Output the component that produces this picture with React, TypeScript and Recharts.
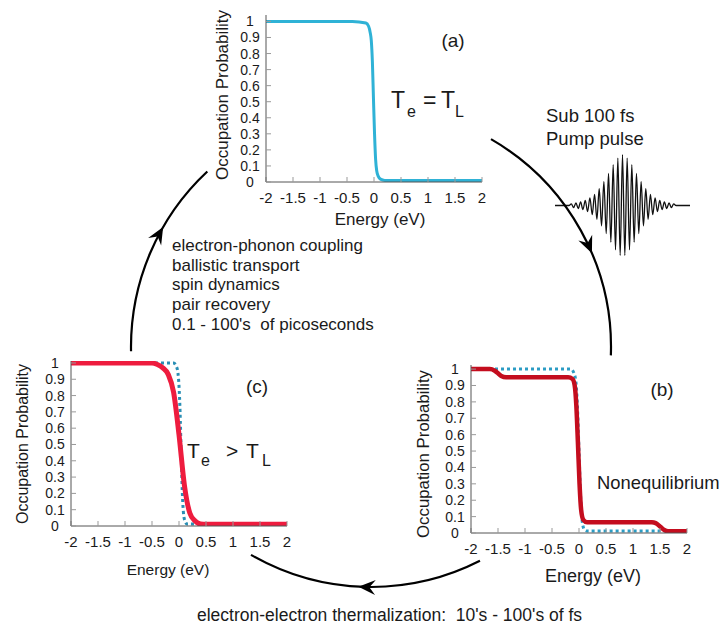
import { LineChart, Line, XAxis, YAxis } from 'recharts'

const FONT = '"Liberation Sans", Arial, Helvetica, sans-serif'
const INK = '#1a1a1a'
const FRAME = '#555555'

const X_TICKS = [-2, -1.5, -1, -0.5, 0, 0.5, 1, 1.5, 2]
const Y_TICKS = [0, 0.1, 0.2, 0.3, 0.4, 0.5, 0.6, 0.7, 0.8, 0.9, 1]

// (a) equilibrium, Te = TL
const A_E = [-2, -0.4, -0.15, -0.1, -0.07, -0.05, -0.03, -0.01, 0.01, 0.03, 0.05, 0.08, 0.12, 0.2, 2]
const A_F = [1, 1, 0.99, 0.97, 0.93, 0.88, 0.75, 0.52, 0.3, 0.14, 0.07, 0.035, 0.018, 0.01, 0.01]

// (b) nonequilibrium after the pump pulse
const B_BLUE_E = [-2, -0.15, -0.1, -0.06, -0.03, 0, 0.03, 0.06, 0.1, 0.15, 2]
const B_BLUE_F = [1, 1, 0.98, 0.93, 0.78, 0.5, 0.22, 0.07, 0.02, 0.012, 0.012]
const B_RED_E = [-2, -1.65, -1.56, -1.5, -1.44, -1.35, -0.2, -0.12, -0.08, -0.05, -0.02, 0.01, 0.04, 0.08, 0.15, 1.35, 1.42, 1.5, 1.58, 1.65, 2]
const B_RED_F = [1, 1, 0.99, 0.975, 0.958, 0.95, 0.95, 0.94, 0.9, 0.78, 0.55, 0.3, 0.14, 0.08, 0.065, 0.065, 0.06, 0.04, 0.018, 0.01, 0.01]

// (c) hot electrons, Te > TL
const C_BLUE_E = [-2, -0.1, -0.05, -0.02, 0, 0.02, 0.04, 0.06, 0.08, 0.11, 0.15, 2]
const C_BLUE_F = [1, 1, 0.98, 0.94, 0.86, 0.7, 0.45, 0.22, 0.09, 0.03, 0.012, 0.01]
const C_RED_E = [-2, -0.5, -0.4, -0.3, -0.2, -0.1, 0, 0.1, 0.2, 0.3, 0.4, 0.5, 2]
const C_RED_F = [1, 1, 0.99, 0.97, 0.93, 0.82, 0.56, 0.25, 0.08, 0.03, 0.012, 0.01, 0.01]

// pump pulse: oscillation extrema, flat tails either side
const PULSE = [
  0, 0, 0, 0, 0, 0, 0,
  0.03, -0.04, 0.05, -0.06, 0.07, -0.08, 0.1, -0.12, 0.15, -0.18, 0.22, -0.27, 0.33, -0.4, 0.47, -0.55,
  0.63, -0.72, 0.8, -0.87, 0.93, -0.98, 1, -0.98, 0.93, -0.87, 0.8, -0.72, 0.63,
  -0.55, 0.47, -0.4, 0.33, -0.27, 0.22, -0.18, 0.15, -0.12, 0.1, -0.08, 0.07, -0.06, 0.05, -0.04, 0.03,
  0, 0, 0, 0, 0, 0, 0,
]

const pts = (e: number[], f: number[]) => e.map((x, i) => ({ e: x, f: f[i] }))

interface Series {
  data: { e: number; f: number }[]
  color: string
  width: number
  dash?: string
}

interface PanelProps {
  left: number
  top: number
  width: number
  height: number
  margin: { top: number; right: number; left: number; bottom: number }
  xHeight: number
  yTop: number
  series: Series[]
}

function Panel({ left, top, width, height, margin, xHeight, yTop, series }: PanelProps) {
  return (
    <div style={{ position: 'absolute', left, top }}>
      <LineChart width={width} height={height} margin={margin}>
        <XAxis
          type="number"
          dataKey="e"
          domain={[-2, 2]}
          ticks={X_TICKS}
          interval={0}
          allowDataOverflow
          height={xHeight}
          tickSize={-5}
          tickMargin={15}
          stroke={FRAME}
          tickLine={{ stroke: '#999' }}
          tick={{ fontSize: 15, fill: INK, fontFamily: FONT }}
        />
        <XAxis
          xAxisId="t"
          orientation="top"
          type="number"
          domain={[-2, 2]}
          ticks={X_TICKS}
          interval={0}
          height={0}
          tickSize={-5}
          stroke={FRAME}
          tickLine={{ stroke: '#999' }}
          tickFormatter={() => ''}
        />
        <YAxis
          type="number"
          domain={[0, yTop]}
          ticks={Y_TICKS}
          interval={0}
          allowDataOverflow
          width={71}
          tickSize={-5}
          tickMargin={21}
          stroke={FRAME}
          tickLine={{ stroke: '#999' }}
          tick={{ fontSize: 14, fill: INK, fontFamily: FONT, textAnchor: 'middle' }}
        />
        <YAxis
          yAxisId="r"
          orientation="right"
          type="number"
          domain={[0, yTop]}
          ticks={Y_TICKS}
          interval={0}
          width={0}
          tickSize={-5}
          stroke={FRAME}
          tickLine={{ stroke: '#999' }}
          tickFormatter={() => ''}
        />
        {series.map((s, i) => (
          <Line
            key={i}
            data={s.data}
            dataKey="f"
            type="monotone"
            stroke={s.color}
            strokeWidth={s.width}
            strokeDasharray={s.dash}
            dot={false}
            isAnimationActive={false}
          />
        ))}
      </LineChart>
    </div>
  )
}

const pulseData = PULSE.map((v, i) => ({ i, v }))

function Arrowhead({ angle }: { angle: number }) {
  // tip on the cycle circle, pointing clockwise along it
  const cx = 371, cy = 347, r = 240
  const t = (angle * Math.PI) / 180
  const x = cx + r * Math.cos(t)
  const y = cy + r * Math.sin(t)
  return (
    <path
      d="M0,0 L-17,-7.5 L-11,0 L-17,7.5 Z"
      fill="#000"
      transform={`translate(${x},${y}) rotate(${angle + 90})`}
    />
  )
}

function arc(a0: number, a1: number) {
  const cx = 371, cy = 347, r = 240
  const p = (a: number) => [cx + r * Math.cos((a * Math.PI) / 180), cy + r * Math.sin((a * Math.PI) / 180)]
  const [x0, y0] = p(a0)
  const [x1, y1] = p(a1)
  return `M${x0},${y0} A${r},${r} 0 0 1 ${x1},${y1}`
}

export default function App() {
  const text = { fontFamily: FONT, fill: INK }
  return (
    <div style={{ position: 'absolute', left: 0, top: 0, width: 725, height: 627, background: '#fff' }}>
      <Panel
        left={195}
        top={5}
        width={300}
        height={230}
        margin={{ top: 10, right: 13, left: 0, bottom: 0 }}
        xHeight={53}
        yTop={1.04}
        series={[{ data: pts(A_E, A_F), color: '#2fb2d6', width: 3 }]}
      />
      <Panel
        left={0}
        top={350}
        width={300}
        height={240}
        margin={{ top: 11, right: 13, left: 0, bottom: 0 }}
        xHeight={64}
        yTop={1.012}
        series={[
          { data: pts(C_BLUE_E, C_BLUE_F), color: '#2a8fb5', width: 3, dash: '3 3' },
          { data: pts(C_RED_E, C_RED_F), color: '#ee1c3e', width: 5 },
        ]}
      />
      <Panel
        left={400}
        top={355}
        width={325}
        height={240}
        margin={{ top: 10, right: 38, left: 0, bottom: 0 }}
        xHeight={62}
        yTop={1.025}
        series={[
          { data: pts(B_BLUE_E, B_BLUE_F), color: '#2c9cc4', width: 3, dash: '3 3' },
          { data: pts(B_RED_E, B_RED_F), color: '#c40d1e', width: 4.5 },
        ]}
      />

      <div style={{ position: 'absolute', left: 555, top: 152 }}>
        <LineChart width={135} height={107} data={pulseData} margin={{ top: 0, right: 0, left: 0, bottom: 0 }}>
          <XAxis dataKey="i" hide />
          <YAxis domain={[-1.05, 1.05]} hide />
          <Line dataKey="v" type="monotone" stroke="#111" strokeWidth={1.3} dot={false} isAnimationActive={false} />
        </LineChart>
      </div>

      <svg width={725} height={627} style={{ position: 'absolute', left: 0, top: 0, pointerEvents: 'none' }}>
        <g fill="none" stroke="#000" strokeWidth={2.2}>
          <path d={arc(-60, 2)} />
          <path d={arc(63, 120)} />
          <path d={arc(179, 227)} />
        </g>
        <Arrowhead angle={-23} />
        <Arrowhead angle={93} />
        <Arrowhead angle={210} />

        {/* panel tags */}
        <text x={453} y={47} fontSize={19} textAnchor="middle" {...text}>(a)</text>
        <text x={662} y={396} fontSize={19} textAnchor="middle" {...text}>(b)</text>
        <text x={257} y={393} fontSize={19} textAnchor="middle" {...text}>(c)</text>

        <text y={108} fontSize={23} {...text}>
          <tspan x={391}>T</tspan>
          <tspan x={407} dy={9} fontSize={16}>e</tspan>
          <tspan x={423} dy={-9}>=</tspan>
          <tspan x={441}>T</tspan>
          <tspan x={455} dy={9} fontSize={16}>L</tspan>
        </text>
        <text y={458} fontSize={21} {...text}>
          <tspan x={187}>T</tspan>
          <tspan x={201} dy={8} fontSize={16}>e</tspan>
          <tspan x={226} dy={-8}>&gt;</tspan>
          <tspan x={246}>T</tspan>
          <tspan x={262} dy={8} fontSize={16}>L</tspan>
        </text>
        <text x={597} y={489} fontSize={18.4} {...text}>Nonequilibrium</text>

        {/* axis titles */}
        <text transform="translate(222,95) rotate(-90)" textAnchor="middle" dominantBaseline="central" fontSize={17} {...text}>Occupation Probability</text>
        <text transform="translate(22,444) rotate(-90)" textAnchor="middle" dominantBaseline="central" fontSize={16} {...text}>Occupation Probability</text>
        <text transform="translate(423,454) rotate(-90)" textAnchor="middle" dominantBaseline="central" fontSize={16.8} {...text}>Occupation Probability</text>
        <text x={380} y={225} fontSize={17} textAnchor="middle" {...text}>Energy (eV)</text>
        <text x={168} y={575} fontSize={15.5} textAnchor="middle" {...text}>Energy (eV)</text>
        <text x={593} y={582} fontSize={18} textAnchor="middle" {...text}>Energy (eV)</text>

        {/* cycle annotations */}
        <text x={546} y={122} fontSize={18.5} {...text}>Sub 100 fs</text>
        <text x={546} y={145} fontSize={18.5} {...text}>Pump pulse</text>
        <text x={172} fontSize={17} {...text}>
          <tspan x={172} y={251}>electron-phonon coupling</tspan>
          <tspan x={172} y={271}>ballistic transport</tspan>
          <tspan x={172} y={290}>spin dynamics</tspan>
          <tspan x={172} y={310}>pair recovery</tspan>
          <tspan x={172} y={330} style={{ whiteSpace: 'pre' }}>0.1 - 100's  of picoseconds</tspan>
        </text>
        <text x={197} y={621} fontSize={17.5} style={{ whiteSpace: 'pre' }} {...text}>electron-electron thermalization:  10's - 100's of fs</text>
      </svg>
    </div>
  )
}
